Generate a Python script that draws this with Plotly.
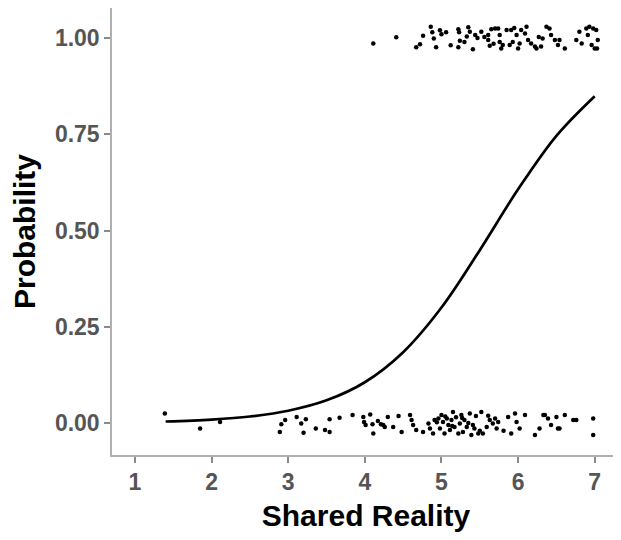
import plotly.graph_objects as go

# Fitted probability curve
curve_x = [1.4, 2.0, 2.5, 3.0, 3.5, 4.0, 4.5, 5.0, 5.5, 6.0, 6.5, 7.0]
curve_y = [0.004, 0.009, 0.017, 0.032, 0.059, 0.106, 0.184, 0.30, 0.449, 0.607, 0.746, 0.849]

# Jittered observations with outcome = 1
top_x = [4.11, 4.41, 4.67, 4.72, 4.76, 4.86, 4.88, 4.90, 4.93, 5.00, 5.06, 5.22, 5.23, 5.22, 5.24,
         5.35, 5.37, 5.30, 5.41, 5.44, 5.52, 5.61, 5.61, 5.63, 5.65, 5.70, 5.74, 5.76, 5.76, 5.78,
         5.80, 5.85, 5.91, 5.89, 5.93, 5.98, 6.00, 6.02, 6.04, 6.09, 6.11, 6.13, 6.17, 6.22, 6.24,
         6.30, 6.32, 6.37, 6.41, 6.43, 6.48, 6.52, 6.54, 6.61, 6.76, 6.80, 6.83, 6.89, 6.91, 6.93,
         6.96, 6.98, 7.00, 7.02, 7.04, 7.03, 5.12, 5.47, 5.56, 5.68, 5.33, 5.95, 6.27, 4.98]
top_y = [0.986, 1.002, 0.976, 0.984, 1.006, 1.029, 1.015, 0.999, 0.976, 1.010, 1.015, 1.023, 1.015, 0.976, 0.993,
         1.028, 1.016, 0.990, 0.971, 1.008, 1.016, 1.008, 0.995, 0.980, 1.023, 1.025, 1.025, 1.008, 0.990, 0.973,
         0.982, 1.021, 1.021, 0.982, 0.990, 1.008, 0.973, 0.986, 1.021, 1.012, 1.029, 0.995, 0.986, 0.978, 0.973,
         0.978, 0.999, 1.029, 1.025, 1.008, 0.995, 0.982, 0.995, 0.973, 0.995, 1.016, 0.986, 1.025, 1.008, 1.029,
         0.982, 1.025, 0.973, 1.021, 0.995, 0.973, 0.981, 1.000, 1.003, 0.985, 1.004, 1.026, 1.003, 1.020]

# Jittered observations with outcome = 0
bot_x = [1.39, 1.85, 2.11, 2.89, 2.91, 2.96, 3.11, 3.17, 3.23, 3.36, 3.48, 3.54, 3.54, 3.67, 3.84,
         3.98, 3.99, 4.01, 4.10, 4.11, 4.17, 4.21, 4.26, 4.30, 4.24, 4.37, 4.48, 4.59, 4.61, 4.63,
         4.67, 4.76, 4.83, 4.85, 4.89, 4.91, 4.96, 4.98, 5.00, 5.02, 5.04, 5.07, 5.09, 5.11, 5.13,
         5.15, 5.17, 5.22, 5.24, 5.26, 5.28, 5.30, 5.33, 5.37, 5.39, 5.41, 5.43, 5.48, 5.52, 5.54,
         5.59, 5.63, 5.67, 5.70, 5.72, 5.74, 5.87, 5.91, 5.96, 5.98, 6.02, 6.09, 6.22, 6.28, 6.33,
         6.35, 6.39, 6.50, 6.52, 6.54, 6.61, 6.72, 6.76, 6.98, 6.98, 5.05, 5.19, 5.35, 5.45, 5.14,
         4.94, 5.27, 5.50, 5.61, 4.44, 3.20, 4.07, 5.81, 6.43]
bot_y = [0.025, -0.014, 0.003, -0.023, -0.003, 0.008, 0.016, -0.001, 0.010, -0.014, -0.018, 0.010, -0.023, 0.014, 0.021,
         0.016, 0.003, -0.005, -0.003, -0.027, 0.005, -0.003, -0.010, 0.016, -0.005, -0.010, -0.023, 0.021, 0.008, -0.005,
         -0.018, -0.023, -0.001, -0.014, -0.027, 0.008, 0.012, -0.014, 0.021, 0.003, -0.027, 0.012, -0.005, -0.018, 0.008,
         0.029, -0.010, -0.027, -0.001, 0.021, -0.023, 0.008, -0.010, 0.025, -0.031, -0.005, -0.014, -0.027, 0.029, -0.027,
         -0.010, 0.008, -0.001, 0.012, -0.014, 0.003, 0.016, -0.027, 0.025, 0.003, -0.014, 0.021, -0.031, -0.014, 0.021,
         0.021, 0.012, 0.016, -0.014, -0.014, 0.021, 0.008, 0.008, 0.012, -0.031, 0.017, 0.015, 0.000, 0.018, -0.008,
         0.002, 0.013, -0.020, 0.019, 0.018, -0.025, 0.022, -0.020, -0.005]

x_ticks = [1, 2, 3, 4, 5, 6, 7]
y_ticks = [0.0, 0.25, 0.5, 0.75, 1.0]
y_tick_labels = ["0.00", "0.25", "0.50", "0.75", "1.00"]

fig = go.Figure()
fig.add_trace(go.Scatter(x=top_x + bot_x, y=top_y + bot_y, mode="markers",
                         marker=dict(color="black", size=4.5), hoverinfo="skip"))
fig.add_trace(go.Scatter(x=curve_x, y=curve_y, mode="lines",
                         line=dict(color="black", width=2.7, shape="spline"), hoverinfo="skip"))

axis_common = dict(showline=True, mirror=True, linecolor="#b0b0b0", linewidth=1.5,
                   showgrid=False, zeroline=False, ticks="outside", ticklen=6,
                   tickcolor="#8a8a8a", tickwidth=1.5, automargin=False,
                   tickfont=dict(family="Liberation Sans, Arial", size=23, color="#555555", weight="bold"))

title_font = dict(family="Liberation Sans, Arial", size=30, color="black", weight="bold")

# page body adds an 8px offset; figure sized so it fits the 621x540 window
fig.update_layout(
    width=613, height=532,
    margin=dict(l=104, r=1, t=0, b=85),
    paper_bgcolor="white", plot_bgcolor="white",
    showlegend=False,
    xaxis=dict(range=[0.70, 7.33], tickvals=x_ticks,
               title=dict(text="Shared Reality", standoff=11, font=title_font),
               **axis_common),
    yaxis=dict(range=[-0.083, 1.078], tickvals=y_ticks, ticktext=y_tick_labels,
               title=dict(text="Probability", standoff=14, font=title_font),
               **axis_common),
)

fig.write_html("out.html")
